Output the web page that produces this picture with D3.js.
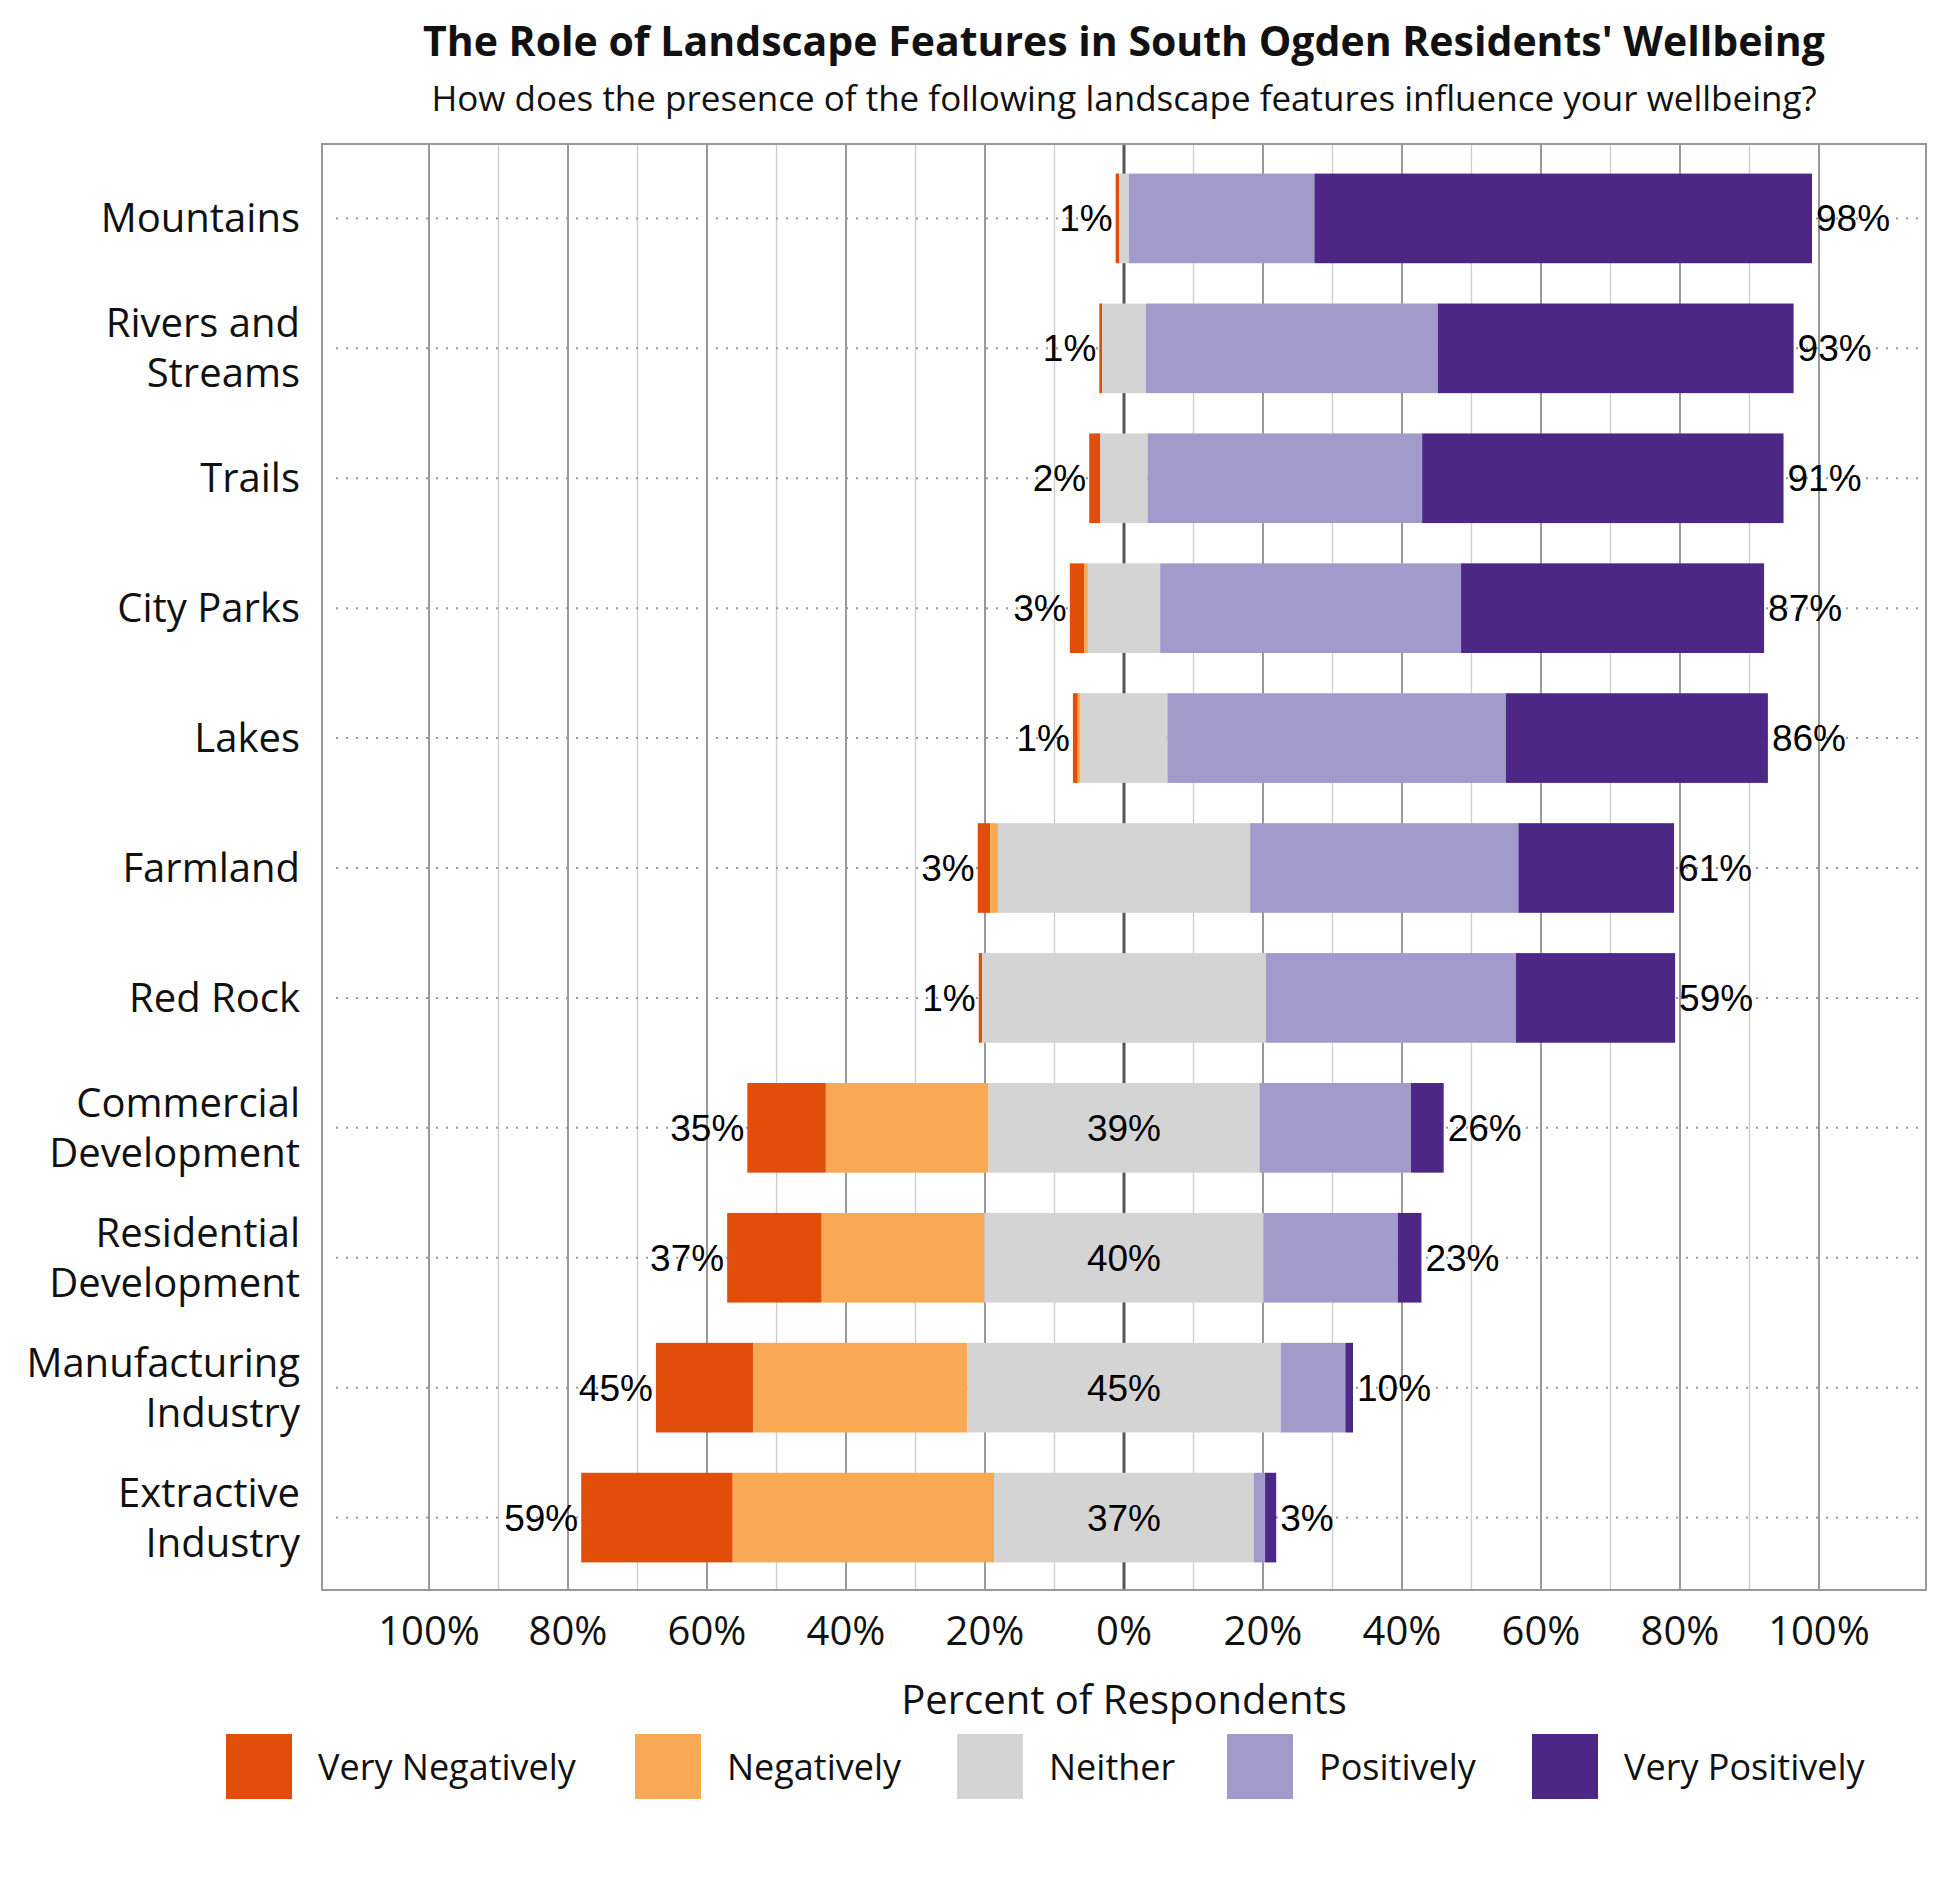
<!DOCTYPE html>
<html><head><meta charset="utf-8">
<script src="https://cdn.jsdelivr.net/npm/d3@7"></script>
<style>body{margin:0;background:#fff}</style></head>
<body><svg id="c" width="1950" height="1890"></svg>
<script>
const categories=["Mountains","Rivers and\nStreams","Trails","City Parks","Lakes","Farmland","Red Rock","Commercial\nDevelopment","Residential\nDevelopment","Manufacturing\nIndustry","Extractive\nIndustry"];
const veryNeg=[0.5,0.4,1.6,2.1,0.7,1.8,0.5,11.3,13.6,14,21.8];
const neg=[0,0,0,0.5,0.4,1.1,0,23.4,23.4,30.8,37.6];
const neither=[1.4,6.3,6.8,10.4,12.5,36.3,40.8,39,40.2,45.1,37.4];
const pos=[26.7,42,39.5,43.3,48.7,38.6,36,21.8,19.3,9.3,1.6];
const veryPos=[71.6,51.2,52,43.6,37.7,22.4,22.9,4.7,3.4,1.1,1.6];
const negLabels=["1%","1%","2%","3%","1%","3%","1%","35%","37%","45%","59%"];
const neitherLabels=["","","","","","","","39%","40%","45%","37%"];
const posLabels=["98%","93%","91%","87%","86%","61%","59%","26%","23%","10%","3%"];
const tickVals=[-100,-80,-60,-40,-20,0,20,40,60,80,100];
const seriesNames=["Very Negatively","Negatively","Neither","Positively","Very Positively"];
const colors=["#e04e0a","#f9a953","#d4d4d4","#a29aca","#4c2785"];

const svg=d3.select("#c");
const L=322,R=1926,T=144,B=1590;
const x=d3.scaleLinear().domain([-115.4,115.4]).range([L,R]);
const y=d3.scaleBand().domain(categories).range([T+14,B-12]).paddingInner(0.31).paddingOuter(0.12);
const font="'Liberation Sans Narrow','Liberation Sans',Arial,sans-serif";
const font2="'Open Sans','Noto Sans',sans-serif";

const g=svg.append("g");
d3.range(-100,101,10).forEach(v=>{
  g.append("line").attr("x1",x(v)).attr("x2",x(v)).attr("y1",T).attr("y2",B)
   .attr("stroke",v===0?"#555":(v%20===0?"#999":"#ccc")).attr("stroke-width",v===0?3:(v%20===0?2:1.3));
});
categories.forEach(c=>{
  const cy=y(c)+y.bandwidth()/2;
  g.append("line").attr("x1",L+14).attr("x2",R).attr("y1",cy).attr("y2",cy)
   .attr("stroke","#999").attr("stroke-width",2).attr("stroke-dasharray","2,8");
});
svg.append("rect").attr("x",L).attr("y",T).attr("width",R-L).attr("height",B-T).attr("fill","none").attr("stroke","#999").attr("stroke-width",2);

categories.forEach((c,i)=>{
  const vals=[veryNeg[i],neg[i],neither[i],pos[i],veryPos[i]];
  let start=-(veryNeg[i]+neg[i]+neither[i]/2);
  vals.forEach((v,k)=>{
    if(v>0) svg.append("rect").attr("x",x(start)).attr("width",x(start+v)-x(start))
      .attr("y",y(c)).attr("height",y.bandwidth()).attr("fill",colors[k]);
    start+=v;
  });
  const cy=y(c)+y.bandwidth()/2;
  const left=-(veryNeg[i]+neg[i]+neither[i]/2), right=neither[i]/2+pos[i]+veryPos[i];
  svg.append("text").attr("x",x(left)-3).attr("y",cy).attr("dy","0.35em").attr("text-anchor","end")
    .attr("font-family",font).attr("font-size",37).text(negLabels[i]);
  svg.append("text").attr("x",x(right)+4).attr("y",cy).attr("dy","0.35em").attr("text-anchor","start")
    .attr("font-family",font).attr("font-size",37).text(posLabels[i]);
  if(neitherLabels[i]) svg.append("text").attr("x",x(0)).attr("y",cy).attr("dy","0.35em").attr("text-anchor","middle")
    .attr("font-family",font).attr("font-size",37).text(neitherLabels[i]);
  const lines=c.split("\n");
  const t=svg.append("text").attr("text-anchor","end").attr("font-family",font2).attr("font-size",40).attr("fill","#111");
  lines.forEach((ln,j)=>t.append("tspan").attr("x",L-22).attr("y",cy+(j-(lines.length-1)/2)*50).attr("dy","0.35em").text(ln));
});

tickVals.forEach(v=>{
  svg.append("text").attr("x",x(v)).attr("y",1631).attr("dy","0.35em").attr("text-anchor","middle")
   .attr("font-family",font2).attr("font-size",40).attr("fill","#111").text(Math.abs(v)+"%");
});
svg.append("text").attr("x",x(0)).attr("y",1700).attr("dy","0.35em").attr("text-anchor","middle")
  .attr("font-family",font2).attr("font-size",40).attr("fill","#111").text("Percent of Respondents");

svg.append("text").attr("x",x(0)).attr("y",42).attr("dy","0.35em").attr("text-anchor","middle")
  .attr("font-family",font2).attr("font-weight","bold").attr("font-size",41).attr("fill","#111")
  .text("The Role of Landscape Features in South Ogden Residents' Wellbeing");
svg.append("text").attr("x",x(0)).attr("y",99).attr("dy","0.35em").attr("text-anchor","middle")
  .attr("font-family",font2).attr("font-size",35).attr("fill","#111")
  .text("How does the presence of the following landscape features influence your wellbeing?");

const lx=[226,635,957,1227,1532];
seriesNames.forEach((s,k)=>{
  svg.append("rect").attr("x",lx[k]).attr("y",1734).attr("width",66).attr("height",65).attr("fill",colors[k]);
  svg.append("text").attr("x",lx[k]+92).attr("y",1767).attr("dy","0.35em")
    .attr("font-family",font2).attr("font-size",36).attr("fill","#111").text(s);
});
</script></body></html>
